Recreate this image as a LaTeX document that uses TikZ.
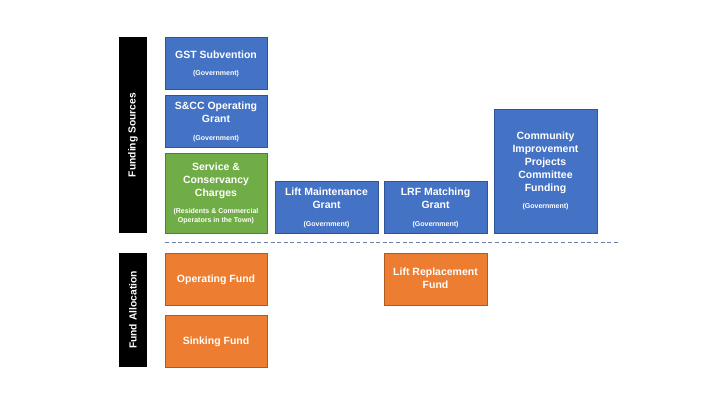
\documentclass[tikz,border=0pt]{standalone}
\usepackage{fontspec}
\setmainfont{Liberation Sans}
\definecolor{cblue}{HTML}{4472C4}
\definecolor{cblueb}{HTML}{2F5597}
\definecolor{cgreen}{HTML}{70AD47}
\definecolor{cgreenb}{HTML}{507E32}
\definecolor{corange}{HTML}{ED7D31}
\definecolor{corangeb}{HTML}{AE5A21}
\definecolor{cdash}{HTML}{6F7FA8}
\tikzset{
  box/.style={draw=#1b, fill=#1, line width=0.8pt, inner sep=0pt, minimum width=102pt, anchor=north west},
  bar/.style={fill=black, draw=none, inner sep=0pt, minimum width=28pt, anchor=north west},
  ttl/.style={text=white, align=center, font=\bfseries\fontsize{10.5}{13}\selectfont, inner sep=0pt},
  gov/.style={text=white, align=center, font=\bfseries\fontsize{7}{9}\selectfont, inner sep=0pt},
  side/.style={text=white, rotate=90, font=\bfseries\fontsize{10.3}{12}\selectfont, inner sep=0pt},
}
\begin{document}
\begin{tikzpicture}[x=1pt,y=-1pt]
\useasboundingbox (0,0) rectangle (720,405);
% side bars
\node[bar, minimum height=196pt] (barfs) at (119,37) {};
\node[side] (fs) at (133,135) {Funding Sources};
\node[bar, minimum height=114pt] (barfa) at (119,253) {};
\node[side] (fa) at (133,310) {Fund Allocation};
% funding sources
\node[box=cblue, minimum height=52pt] (gst) at (165,37) {};
\node[ttl] (gstt) at (216,54.5) {GST Subvention};
\node[gov] (gstg) at (216,74) {(Government)};
\node[box=cblue, minimum height=52pt] (scc) at (165,95) {};
\node[ttl] (scct) at (216,112.5) {S\&CC Operating\\Grant};
\node[gov] (sccg) at (216,139) {(Government)};
\node[box=cgreen, minimum height=80pt] (svc) at (165,153) {};
\node[ttl] (svct) at (216,181) {Service \&\\Conservancy\\Charges};
\node[gov] (svcg) at (216,216.5) {(Residents \& Commercial\\Operators in the Town)};
\node[box=cblue, minimum height=52pt, minimum width=103pt] (lmg) at (275,181) {};
\node[ttl] (lmgt) at (326.5,198.5) {Lift Maintenance\\Grant};
\node[gov] (lmgg) at (326.5,225) {(Government)};
\node[box=cblue, minimum height=52pt, minimum width=103pt] (lrf) at (384,181) {};
\node[ttl] (lrft) at (435.5,198.5) {LRF Matching\\Grant};
\node[gov] (lrfg) at (435.5,225) {(Government)};
\node[box=cblue, minimum height=124pt, minimum width=103pt] (cip) at (494,109) {};
\node[ttl] (cipt) at (545.5,163) {Community\\Improvement\\Projects\\Committee\\Funding};
\node[gov] (cipg) at (545.5,207) {(Government)};
% divider
\coordinate (dl) at (165,242.5);
\coordinate (dr) at (618,242.5);
\draw[cdash, line width=0.9pt, dash pattern=on 4pt off 2.6pt] (dl) -- (dr);
% fund allocation
\node[box=corange, minimum height=52pt] (opf) at (165,253) {};
\node[ttl] (opft) at (216,279.5) {Operating Fund};
\node[box=corange, minimum height=52pt] (snk) at (165,315) {};
\node[ttl] (snkt) at (216,341.5) {Sinking Fund};
\node[box=corange, minimum height=52pt, minimum width=103pt] (lrp) at (384,253) {};
\node[ttl] (lrpt) at (435.5,278.5) {Lift Replacement\\Fund};
\end{tikzpicture}
\end{document}
